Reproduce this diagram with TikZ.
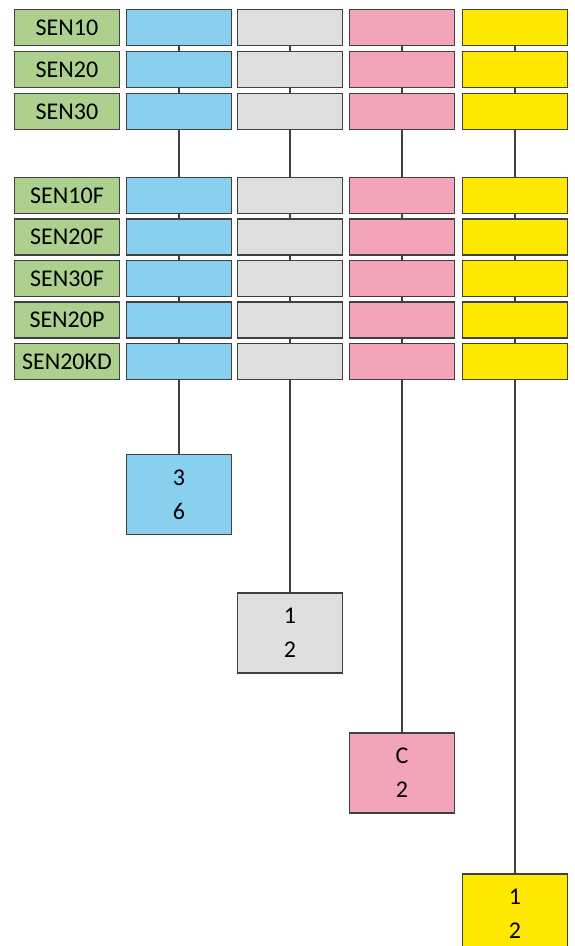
\documentclass[tikz,border=0pt]{standalone}
\usepackage{fontspec}
\setmainfont{Carlito}
\definecolor{labgreen}{HTML}{ADD08F}
\definecolor{cblue}{HTML}{89D0EF}
\definecolor{cgray}{HTML}{DFDFDF}
\definecolor{cpink}{HTML}{F4A4B9}
\definecolor{cyellow}{HTML}{FFE900}
\definecolor{edge}{HTML}{404040}

\begin{document}
\begin{tikzpicture}[x=1pt, y=-1pt,
    box/.style={draw=edge, line width=1.3pt, minimum width=105pt, minimum height=36pt,
        inner sep=0pt, font=\fontsize{24}{28}\selectfont},
    res/.style={box, minimum height=80pt, align=center, font=\fontsize{24}{34}\selectfont},
    link/.style={draw=edge, line width=1.3pt}]
    \useasboundingbox (0,0) rectangle (575,946);

    % Rows: label and four coloured cells
    \foreach \y/\lbl [count=\i] in {27.5/SEN10, 69.5/SEN20, 111.5/SEN30,
            195.5/SEN10F, 237/SEN20F, 278.5/SEN30F, 320/SEN20P, 361.5/SEN20KD} {
        \node[box, fill=labgreen] (lab\i) at (67,\y) {\lbl};
        \foreach \x/\c/\col in {179/a/cblue, 290/b/cgray, 402/c/cpink, 515/d/cyellow}
            \node[box, fill=\col] (\c\i) at (\x,\y) {};
    }

    % Result boxes
    \node[res, fill=cblue] (aend) at (179,494.5) {3\\6};
    \node[res, fill=cgray] (bend) at (290,633) {1\\2};
    \node[res, fill=cpink] (cend) at (402,773) {C\\2};
    \node[res, fill=cyellow] (dend) at (515,914) {1\\2};

    % Links down each column
    \foreach \c in {a,b,c,d} {
        \foreach \i in {1,...,7} {
            \pgfmathtruncatemacro{\j}{\i+1}
            \draw[link] (\c\i) -- (\c\j);
        }
        \draw[link] (\c8) -- (\c end);
    }
\end{tikzpicture}
\end{document}
